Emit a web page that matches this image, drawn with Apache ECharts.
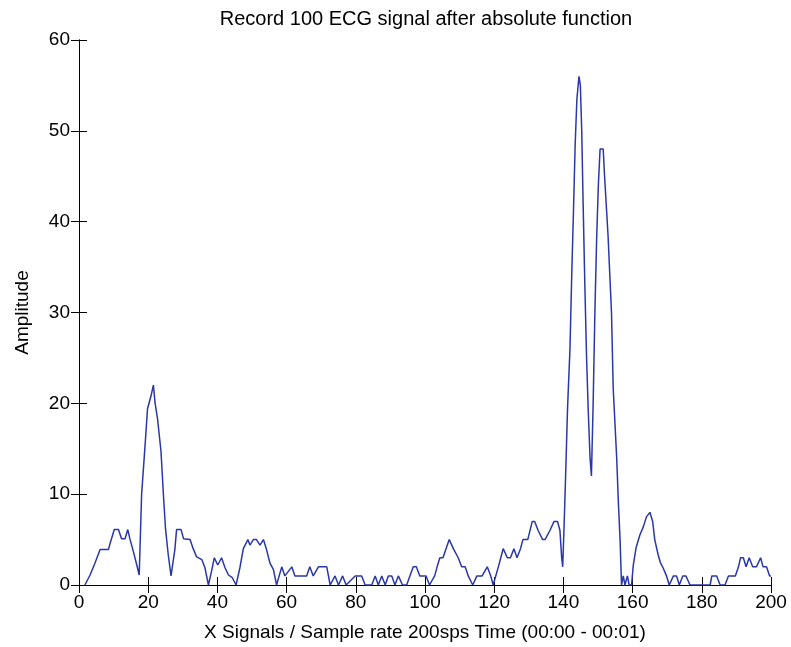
<!DOCTYPE html>
<html>
<head>
<meta charset="utf-8">
<script src="https://cdn.jsdelivr.net/npm/echarts@6/dist/echarts.min.js"></script>
<style>
  html, body { margin: 0; padding: 0; background: #fff; }
  #chart { width: 791px; height: 647px; }
</style>
</head>
<body>
<div id="chart"></div>
<script>
const titleText = "Record 100 ECG signal after absolute function";
const xName = "X Signals / Sample rate 200sps Time (00:00 - 00:01)";
const yName = "Amplitude";

// polyline vertices (x position, amplitude)
const sampleX = [
    1.7, 3.2, 4.6, 6.1, 8.5, 9, 10.2, 11.4, 12.3, 13.3, 14.1, 14.7, 15.7, 16.7, 17.4,
    18.1, 19.1, 19.8, 20.8, 21.5, 22, 22.7, 23.7, 24.4, 25, 25.8, 26.6,
    27.7, 28.2, 29.5, 30.2, 32.1, 33, 34, 35.5, 36.4, 37.4, 38.3, 39.1, 40.1, 41.2, 42.2, 43.2, 44.3, 45.4,
    46.5, 47.5, 48.8, 49.4, 50.4, 51.3, 52.3, 53.3, 54.2, 55.2, 56.2, 57.1,
    58.6, 59.5, 61.5, 62.4, 65.8, 66.7, 67.7, 69.2, 71.6, 72.6, 74, 75, 76.2, 77.2, 79.8, 81.7, 82.7, 84.6,
    85.6, 86.5, 87.5, 88.5, 89.4, 90.4, 91.3, 92.3, 93.5, 94.7, 96.6, 97.5, 98.5, 100.3, 101.3, 102.8,
    103.5, 104.3, 105.2, 107, 108.2, 109.6, 110.6, 111.6, 112.5, 113.8, 115, 116.5, 118, 119, 119.7,
    121.2, 121.9, 122.6, 123.8, 124.7, 125.7, 126.6, 127.6, 128.3, 129.7, 131, 131.7, 132.7, 134, 134.7,
    136.1, 137.3, 138.3, 139, 139.5, 139.8,
    140.2, 140.6, 141.2, 141.9, 142.4, 142.9, 143.4, 143.9, 144.5, 144.9, 145.3, 145.7, 146.2, 146.7, 147.2,
    147.7, 148.1, 148.6, 149.1, 149.6, 150.1, 150.6, 151.5, 151.9, 152.9, 153.9, 154.4, 155.4, 155.9, 156.4, 156.8,
    157.3, 157.8, 158.5, 159, 159.7, 160.2, 161, 162.1, 163.1, 164, 165, 165.8, 166.4, 167.4, 168, 168.8,
    169.8, 170.6, 171.8, 172.7, 173.5, 174.5, 175.4, 176.6, 182.4, 182.9, 184.3, 185.3, 186.7, 187.7, 189.7,
    190.6, 191.2, 192, 192.8, 193.7, 194.7, 195.8, 197, 197.7, 198.7, 199.6, 200
];
const amplitude = [
    0, 1.1, 2.4, 3.9, 3.9, 4.6, 6.1, 6.1, 5.1, 5.1, 6.1, 5.1, 3.7, 2.2, 1.1,
    10, 15.4, 19.4, 20.8, 22, 20, 18.3, 14.7, 9.9, 6.2, 3.3, 1,
    3.9, 6.1, 6.1, 5.1, 5, 4, 3.1, 2.8, 1.9, 0, 1.5, 3, 2.2, 3, 1.9, 1.1, 0.8, 0,
    1.9, 4, 5, 4.4, 5, 5, 4.4, 5, 3.9, 2.4, 1.7, 0,
    2, 1, 2, 1, 1, 2, 1, 2, 2, 0, 1, 0, 1, 0, 1, 1, 0, 0,
    1, 0, 1, 0, 1, 1, 0, 1, 0, 0, 2, 2, 1, 1, 0, 1,
    2, 3, 3, 5, 4, 3, 2, 2, 1, 0, 1, 1, 2, 1, 0,
    2, 3, 4, 3, 3, 4, 3, 4, 5, 5, 7, 7, 6, 5, 5,
    6, 7, 7, 6, 3, 2,
    6.5, 11.5, 19.5, 26, 34, 41, 48.5, 53.5, 56, 55, 50, 42, 33, 25, 19,
    14, 12, 20, 30, 38, 44, 48, 48, 45, 38.5, 30, 21.6, 14, 9, 4.8, 0,
    1, 0, 1, 0, 0, 2.2, 4.1, 5.5, 6.4, 7.5, 8, 7, 5, 3.3, 2.5, 1.9,
    1, 0, 1, 1, 0, 1, 1, 0, 0, 1, 1, 0, 0, 1, 1,
    2, 3, 3, 2, 3, 2, 2, 3, 2, 2, 1, 1
];

const chart = echarts.init(document.getElementById('chart'));
const font = '"Liberation Sans", Arial, sans-serif';

const boxAxis = (extra) => Object.assign({
    type: 'value',
    axisLine: { show: true, lineStyle: { color: '#000', width: 1 } },
    axisTick: { show: true, inside: true, length: 8, lineStyle: { color: '#000' } },
    splitLine: { show: false },
    axisLabel: { show: false }
}, extra);

chart.setOption({
    animation: false,
    backgroundColor: '#fff',
    title: {
        text: titleText,
        left: 421,
        textAlign: 'center',
        top: 4,
        textStyle: { fontFamily: font, fontSize: 20, fontWeight: 'normal', color: '#000' }
    },
    grid: { left: 79, right: 20, top: 40, bottom: 60 },
    xAxis: [
        boxAxis({
            min: 0, max: 200, interval: 20, position: 'bottom',
            axisLabel: { show: true, color: '#000', fontFamily: font, fontSize: 19, margin: 8 },
            name: xName, nameLocation: 'middle', nameGap: 38,
            nameTextStyle: { color: '#000', fontFamily: font, fontSize: 19 }
        }),
        boxAxis({ min: 0, max: 200, interval: 20, position: 'top' })
    ],
    yAxis: [
        boxAxis({
            min: 0, max: 60, interval: 10, position: 'left',
            axisLabel: { show: true, color: '#000', fontFamily: font, fontSize: 19, margin: 9 },
            name: yName, nameLocation: 'middle', nameGap: 47, nameRotate: 90,
            nameTextStyle: { color: '#000', fontFamily: font, fontSize: 19 }
        }),
        boxAxis({ min: 0, max: 60, interval: 10, position: 'right' })
    ],
    series: [{
        type: 'line',
        data: sampleX.map((x, i) => [x, amplitude[i]]),
        showSymbol: false,
        lineStyle: { color: '#2a37a8', width: 1.5 },
        xAxisIndex: 0,
        yAxisIndex: 0
    }]
});
</script>
</body>
</html>
